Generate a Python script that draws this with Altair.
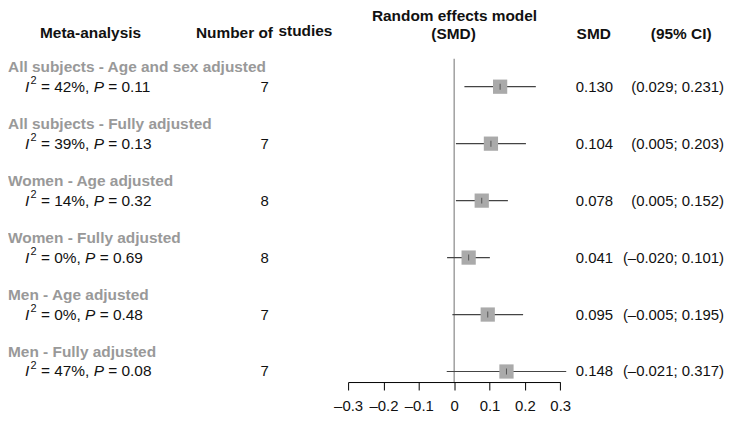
import altair as alt
import pandas as pd

# ---- data ----
titles = ["All subjects - Age and sex adjusted", "All subjects - Fully adjusted",
          "Women - Age adjusted", "Women - Fully adjusted",
          "Men - Age adjusted", "Men - Fully adjusted"]
i2_vals = [42, 39, 14, 0, 0, 47]
p_vals = ["0.11", "0.13", "0.32", "0.69", "0.48", "0.08"]
n_studies = [7, 7, 8, 8, 7, 7]
smd = [0.130, 0.104, 0.078, 0.041, 0.095, 0.148]
ci_lo = [0.029, 0.005, 0.005, -0.020, -0.005, -0.021]
ci_hi = [0.231, 0.203, 0.152, 0.101, 0.195, 0.317]
tick_values = [-0.3, -0.2, -0.1, 0, 0.1, 0.2, 0.3]

F = "Liberation Sans"


def fmt(v):
    s = f"{v:.3f}"
    return s.replace("-", "\u2013")


rows = list(range(len(titles)))
df = pd.DataFrame({
    "row": rows, "title": titles, "n": [str(n) for n in n_studies],
    "smd": smd, "lo": ci_lo, "hi": ci_hi,
    "smd_txt": [f"{v:.3f}" for v in smd],
    "ci_txt": [f"({fmt(a)}; {fmt(b)})" for a, b in zip(ci_lo, ci_hi)],
})

# text layout of the "I^2 = xx%, P = yy" pieces (Arial metrics)
W = {' ': .278, '=': .584, '%': .889, ',': .278, '.': .278, 'P': .667, 'I': .278}
def width(s, fs):
    return sum(W.get(c, .556) for c in s) * fs

FS = 15.5
SUP = 11
SP = W[' '] * FS
pieces = []
for r, i2, p in zip(rows, i2_vals, p_vals):
    x = 17
    pieces.append({"row": r, "t": "I", "kind": "it", "px": x})
    x += width("I", FS) + 1.4
    pieces.append({"row": r, "t": "2", "kind": "sup", "px": x})
    x += width("2", SUP) + SP
    r1 = f"= {i2}%,"
    pieces.append({"row": r, "t": r1, "kind": "norm", "px": x})
    x += width(r1, FS) + SP
    pieces.append({"row": r, "t": "P", "kind": "it", "px": x})
    x += width("P", FS) + SP
    pieces.append({"row": r, "t": f"= {p}", "kind": "norm", "px": x})
pdf = pd.DataFrame(pieces)

xs = alt.Scale(domain=[-0.3, 0.3], range=[342, 555.3], nice=False, zero=False)
ys = alt.Scale(domain=[0, 5], range=[78, 364.4], nice=False, zero=False)
Y = alt.Y("row:Q", scale=ys, axis=None)

axis = alt.Axis(values=tick_values, title=None, grid=False, domainColor="#000",
                tickColor="#000", tickSize=8, labelFontSize=15, labelFont=F,
                labelColor="#111", labelPadding=9, domainWidth=1, tickWidth=1,
                labelOverlap=False, labelFlush=False,
                labelExpr="datum.value == 0 ? '0' : (datum.value < 0 ? '\u2013' + format(-datum.value, '.1f') : format(datum.value, '.1f'))")

zero = alt.Chart(pd.DataFrame({"x": [0]})).mark_rule(color="#888", strokeWidth=1.2).encode(
    x=alt.X("x:Q", scale=xs, axis=None), y=alt.value(50), y2=alt.value(375))

ci = alt.Chart(df).mark_rule(color="#444", strokeWidth=1.2).encode(
    x=alt.X("lo:Q", scale=xs, axis=axis), x2="hi:Q", y=Y)

sq = alt.Chart(df).mark_square(size=205, color="#aaaaaa", opacity=1).encode(
    x=alt.X("smd:Q", scale=xs, axis=None), y=Y)

tk = alt.Chart(df).mark_tick(orient="vertical", size=6, thickness=1, color="#333").encode(
    x=alt.X("smd:Q", scale=xs, axis=None), y=Y)

ttl = alt.Chart(df).mark_text(align="left", baseline="middle", dy=-20, fontSize=15.5,
                              fontWeight="bold", color="#999999", font=F).encode(
    x=alt.value(0), y=Y, text="title:N")

norm = alt.Chart(pdf).transform_filter("datum.kind == 'norm'").mark_text(
    align="left", baseline="middle", fontSize=FS, color="#111", font=F).encode(
    x=alt.X("px:Q", scale=None), y=Y, text="t:N")
ital = alt.Chart(pdf).transform_filter("datum.kind == 'it'").mark_text(
    align="left", baseline="middle", fontSize=FS, fontStyle="italic", color="#111", font=F).encode(
    x=alt.X("px:Q", scale=None), y=Y, text="t:N")
sup = alt.Chart(pdf).transform_filter("datum.kind == 'sup'").mark_text(
    align="left", baseline="middle", dy=-6, fontSize=SUP, color="#111", font=F).encode(
    x=alt.X("px:Q", scale=None), y=Y, text="t:N")

ntxt = alt.Chart(df).mark_text(align="center", baseline="middle", fontSize=15,
                               color="#111", font=F).encode(
    x=alt.value(258), y=Y, text="n:N")
smdt = alt.Chart(df).mark_text(align="left", baseline="middle", fontSize=15,
                               color="#111", font=F).encode(
    x=alt.value(571), y=Y, text="smd_txt:N")
cit = alt.Chart(df).mark_text(align="right", baseline="middle", fontSize=15,
                              color="#111", font=F).encode(
    x=alt.value(720), y=Y, text="ci_txt:N")


def hdr(text, x, y, align="center", baseline="middle"):
    return alt.Chart(pd.DataFrame({"a": [0]})).mark_text(
        text=text, align=align, baseline=baseline, fontSize=15.5, fontWeight="bold",
        color="#111", font=F).encode(x=alt.value(x), y=alt.value(y))


headers = [
    hdr("Meta-analysis", 83, 24),
    hdr("Number of", 189, 24, align="left"),
    hdr("studies", 272, 22, align="left"),
    hdr("Random effects model", 449, 0, baseline="top"),
    hdr("(SMD)", 448, 25),
    hdr("SMD", 589, 25),
    hdr("(95% CI)", 677, 25),
]

chart = alt.layer(zero, ci, sq, tk, ttl, norm, ital, sup, ntxt, smdt, cit, *headers).resolve_scale(
    x="independent").properties(
    width=720, height=375,
    padding={"left": 0, "top": 0, "right": 0, "bottom": 32},
    autosize=alt.AutoSizeParams(type="none")).configure_view(stroke=None)

chart.save("out.html", embed_options={"renderer": "svg", "actions": False})
